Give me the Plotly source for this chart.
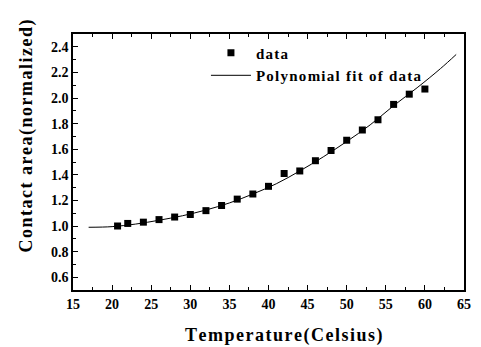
import plotly.graph_objects as go

temp_data = [20.7, 22, 24, 26, 28, 30, 32, 34, 36, 38, 40, 42, 44, 46, 48, 50, 52, 54, 56, 58, 60]
area_data = [1.00, 1.02, 1.03, 1.05, 1.07, 1.09, 1.12, 1.16, 1.21, 1.25, 1.31, 1.41, 1.43,
             1.51, 1.59, 1.67, 1.75, 1.83, 1.95, 2.03, 2.07]

temp_fit = [17, 20, 23, 26, 29, 32, 35, 38, 41, 44, 47, 50, 53, 56, 59, 62, 64]
area_fit = [0.99, 0.995, 1.015, 1.045, 1.08, 1.125, 1.18, 1.25, 1.33, 1.43, 1.54, 1.66,
            1.79, 1.94, 2.08, 2.23, 2.34]

x_title = "Temperature(Celsius)"
y_title = "Contact area(normalized)"

FONT = "Liberation Serif"
HS = "\u200a"


def spaced(s):
    return HS.join(s)


fig = go.Figure()
fig.add_trace(go.Scatter(
    x=temp_data, y=area_data, mode="markers", name=spaced("data"),
    marker=dict(symbol="square", size=7, color="black"),
))
fig.add_trace(go.Scatter(
    x=temp_fit, y=area_fit, mode="lines", name=spaced("Polynomial fit of data"),
    line=dict(color="black", width=1, shape="spline"),
))

title_font = dict(size=18, family=FONT, weight="bold", color="black")

fig.update_layout(
    width=481, height=347,
    margin=dict(l=73, r=10, t=34, b=57),
    paper_bgcolor="white", plot_bgcolor="white",
    font=dict(family=FONT, color="black"),
    showlegend=True,
    legend=dict(x=0.34, y=0.99, xanchor="left", yanchor="top",
                bgcolor="rgba(0,0,0,0)",
                font=dict(size=15, family=FONT, weight="bold", color="black"),
                itemwidth=40, tracegroupgap=0),
    annotations=[
        dict(text=spaced(x_title), xref="paper", yref="paper", x=0.54, y=-0.176,
             xanchor="center", yanchor="middle", showarrow=False, font=title_font),
        dict(text=spaced(y_title), xref="paper", yref="paper", x=-0.12, y=0.60,
             xanchor="center", yanchor="middle", showarrow=False, textangle=-90,
             font=title_font),
    ],
)
fig.update_xaxes(
    range=[15, 65], tick0=15, dtick=5,
    ticks="inside", ticklen=5, tickwidth=1.2, tickcolor="black",
    minor=dict(ticks="inside", ticklen=3, dtick=2.5, tickcolor="black"),
    showline=True, linecolor="black", linewidth=1.5, mirror="ticks",
    showgrid=False, zeroline=False,
    tickfont=dict(size=14, family=FONT, weight="bold", color="black"),
)
fig.update_yaxes(
    range=[0.5, 2.5], tick0=0.6, dtick=0.2, tickformat=".1f",
    ticks="inside", ticklen=5, tickwidth=1.2, tickcolor="black",
    minor=dict(ticks="inside", ticklen=3, dtick=0.1, tickcolor="black"),
    showline=True, linecolor="black", linewidth=1.5, mirror=True,
    showgrid=False, zeroline=False,
    tickfont=dict(size=14, family=FONT, weight="bold", color="black"),
)

fig.write_html("out.html")
